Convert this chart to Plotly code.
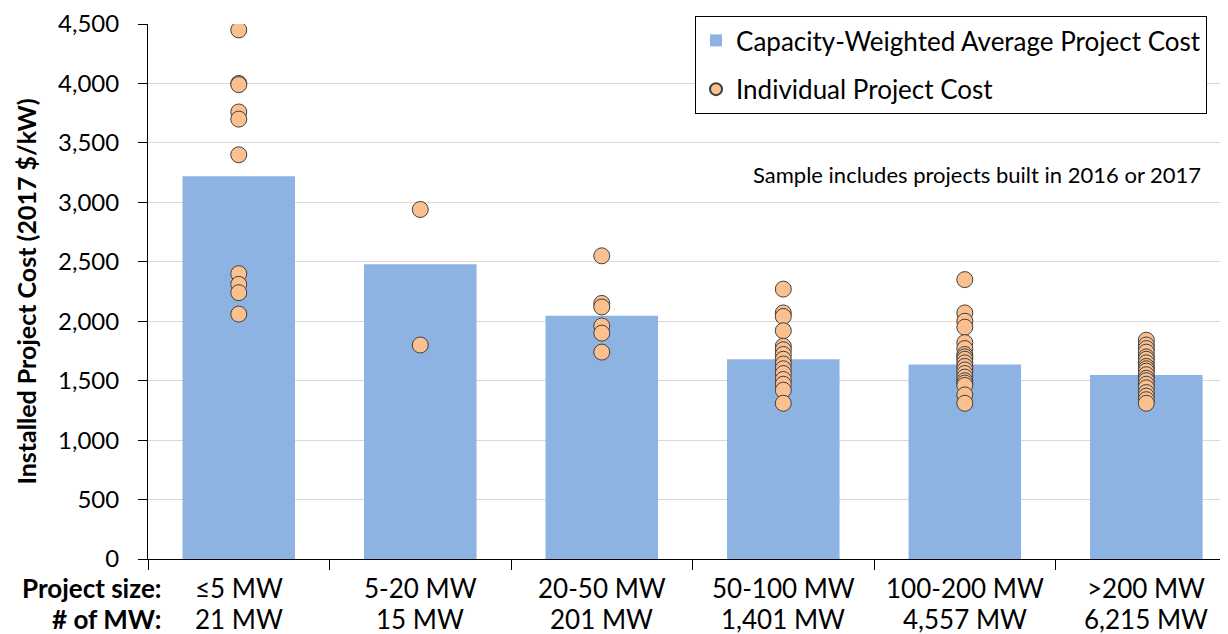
import plotly.graph_objects as go

# categories and values
size_labels = ["≤5 MW", "5-20 MW", "20-50 MW", "50-100 MW", "100-200 MW", ">200 MW"]
mw_labels = ["21 MW", "15 MW", "201 MW", "1,401 MW", "4,557 MW", "6,215 MW"]
avg_cost = [3220, 2480, 2045, 1680, 1635, 1548]

project_costs = [
    [4450, 4000, 3990, 3760, 3700, 3400, 2400, 2310, 2240, 2060],
    [2940, 1800],
    [2550, 2150, 2120, 1960, 1900, 1740],
    [2270, 2070, 2040, 1920, 1790, 1760, 1720, 1680, 1640, 1600, 1560, 1510,
     1470, 1420, 1310],
    [2350, 2070, 2000, 1950, 1820, 1770, 1720, 1700, 1680, 1650, 1620, 1590,
     1560, 1530, 1500, 1480, 1460, 1380, 1310],
    [1840, 1800, 1770, 1740, 1700, 1680, 1650, 1620, 1600, 1580, 1550, 1520,
     1500, 1470, 1440, 1400, 1370, 1340, 1310],
]
y_ticks = [0, 500, 1000, 1500, 2000, 2500, 3000, 3500, 4000, 4500]

FONT = "Lato"

dot_x, dot_y = [], []
for cat, vals in zip(size_labels, project_costs):
    dot_x += [cat] * len(vals)
    dot_y += vals

fig = go.Figure()
fig.add_trace(go.Bar(
    x=size_labels, y=avg_cost, name="Capacity-Weighted Average Project Cost",
    marker=dict(color="#8DB3E2", line=dict(width=0)), width=0.62,
    legendgroup="avg",
))
fig.add_trace(go.Scatter(
    x=dot_x, y=dot_y, mode="markers", name="Individual Project Cost",
    marker=dict(size=16, color="#FAC090", line=dict(color="#3F3F3F", width=1)),
    legendgroup="ind",
))

row1, row2 = -0.054, -0.112
label_font = dict(size=26, color="black", family=FONT)
annotations = [
    dict(text="Sample includes projects built in 2016 or 2017", x=0.977, y=0.718,
         xref="paper", yref="paper", xanchor="right", yanchor="middle",
         showarrow=False, font=dict(size=22, color="black", family=FONT)),
    dict(text="<b>Project size:</b>", x=0.014, y=row1, xref="paper", yref="paper",
         xanchor="right", yanchor="middle", showarrow=False, font=label_font),
    dict(text="<b># of MW:</b>", x=0.014, y=row2, xref="paper", yref="paper",
         xanchor="right", yanchor="middle", showarrow=False, font=label_font),
]
for cat, mw in zip(size_labels, mw_labels):
    annotations.append(dict(text=cat, x=cat, y=row1, xref="x", yref="paper",
                            showarrow=False, yanchor="middle", font=label_font))
    annotations.append(dict(text=mw, x=cat, y=row2, xref="x", yref="paper",
                            showarrow=False, yanchor="middle", font=label_font))

# page has an 8px body margin, so the figure is sized/offset to compensate
fig.update_layout(
    width=1220, height=626,
    margin=dict(l=140, r=0, t=14, b=75),
    plot_bgcolor="white", paper_bgcolor="white",
    font=dict(family=FONT, size=24, color="black"),
    showlegend=True,
    legend=dict(
        x=0.5065, y=1.015, xanchor="left", yanchor="top",
        bordercolor="black", borderwidth=1, bgcolor="white",
        font=dict(size=26, family=FONT), traceorder="grouped",
        tracegroupgap=12, itemsizing="constant",
    ),
    annotations=annotations,
)
fig.update_xaxes(
    range=[-0.5, 5.45],
    showticklabels=False, showline=True, linecolor="black", linewidth=1,
    ticks="outside", tickson="boundaries", ticklen=10, tickcolor="black",
    showgrid=False,
)
fig.update_yaxes(
    range=[0, 4500], tickmode="array", tickvals=y_ticks,
    ticktext=[f"{v:,}" for v in y_ticks], showline=True,
    linecolor="black", linewidth=1, ticks="outside", ticklen=9,
    tickcolor="black", gridcolor="#D9D9D9", gridwidth=1, zeroline=False,
    tickfont=dict(size=24, family=FONT), ticklabelstandoff=14,
    ticklabeloverflow="allow",
    title=dict(text="<b>Installed Project Cost (2017 $/kW)</b>",
               font=dict(size=25, family=FONT), standoff=14),
)

fig.write_html("out.html")
